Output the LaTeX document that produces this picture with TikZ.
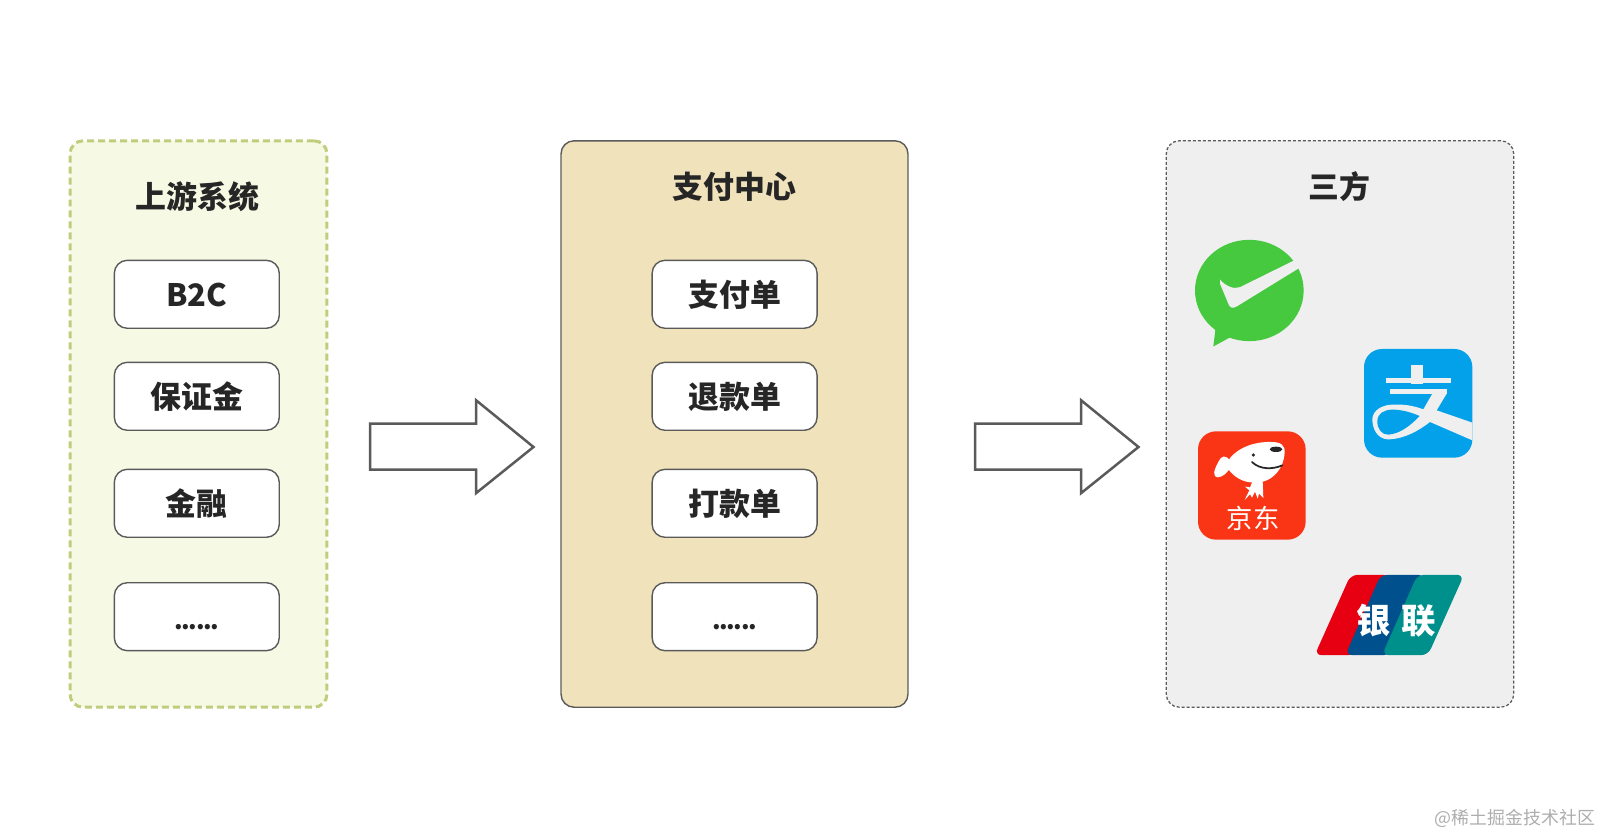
\documentclass[tikz,border=0pt]{standalone}
\usepackage{fontspec}
\usepackage{xcolor}
\usepackage{tikz}
\usetikzlibrary{
    positioning,
    calc
}
\setmainfont{Noto Sans CJK SC}
\newfontfamily\heavyfont{Noto Sans CJK SC Black}
\newcommand{\sixdots}{{\fontsize{14pt}{16pt}\selectfont .\kern-.76pt.\kern-.76pt.\kern-.76pt.\kern-.76pt.\kern-.76pt.}}

\definecolor{inkdark}{HTML}{262626}
\definecolor{edgegray}{HTML}{5A5A5A}
\definecolor{upfill}{HTML}{F6F9E4}
\definecolor{updash}{HTML}{C0CD7C}
\definecolor{payfill}{HTML}{F0E2BB}
\definecolor{thirdfill}{HTML}{EFEFEF}
\definecolor{wechatgreen}{HTML}{46C83F}
\definecolor{alipayblue}{HTML}{02A1EA}
\definecolor{jdred}{HTML}{F93515}
\definecolor{upred}{HTML}{E60012}
\definecolor{upblue}{HTML}{00508E}
\definecolor{upgreen}{HTML}{00908C}

\tikzset{
    panel/.style={minimum height=11.33cm, rounded corners=0.26cm, inner sep=0pt},
    title/.style={font=\fontsize{17.6pt}{20pt}\selectfont\bfseries, text=inkdark, inner sep=0pt},
    itembox/.style={draw=edgegray, line width=0.028cm, fill=white, rounded corners=0.26cm,
        minimum width=3.3cm, minimum height=1.36cm, inner sep=0pt,
        font=\fontsize{17.6pt}{20pt}\selectfont\bfseries, text=inkdark,
        text height=0.59cm, text depth=0.094cm},
    bigarrow/.style={draw=edgegray, line width=0.05cm, fill=white, line join=miter},
    logotext/.style={text=white, inner sep=0pt}
}

\begin{document}
\begin{tikzpicture}[x=0.02cm, y=-0.02cm]
    \useasboundingbox (0,0) rectangle (1601,834);

    % the three panels
    \node[panel, draw=updash, fill=upfill, line width=0.06cm, dash pattern=on 0.14cm off 0.08cm,
        minimum width=5.14cm] (upstream) at (198.5,424) {};
    \node[panel, draw=edgegray, fill=payfill, line width=0.028cm,
        minimum width=6.94cm] (paycenter) at (734.5,424) {};
    \node[panel, draw=edgegray, fill=thirdfill, line width=0.025cm, dash pattern=on 0.06cm off 0.04cm,
        minimum width=6.95cm] (thirdparty) at (1340,424) {};

    \node[title] (upstreamtitle) at (197.5,197) {上游系统};
    \node[title] (paytitle) at (734.5,187) {支付中心};
    \node[title] (thirdtitle) at (1339.5,187) {三方};

    % items of the left and middle panels
    \foreach \ypos/\name/\leftlabel/\midlabel in {294.3/a/B2C/支付单, 396.3/b/保证金/退款单, 503.3/c/金融/打款单, 616.7/d/\sixdots/\sixdots} {
        \node[itembox] (up\name) at (196.8,\ypos) {\leftlabel};
        \node[itembox] (pay\name) at (734.6,\ypos) {\midlabel};
    }

    % hollow arrows
    \foreach \ax in {370,975} {
        \draw[bigarrow] (\ax,423.7) -- ({\ax+106},423.7) -- ({\ax+106},400.2) -- ({\ax+163.5},447)
            -- ({\ax+106},493.2) -- ({\ax+106},469.7) -- (\ax,469.7) -- cycle;
    }

    % wechat
    \begin{scope}[shift={(1170,130.5)}, scale=0.3333]
        \fill[wechatgreen] (238,480) ellipse [x radius=163, y radius=152];
        \fill[wechatgreen] (137,590) -- (130,648) -- (185,618) -- cycle;
        \fill[thirdfill] (150,447) .. controls (165,465) and (190,478) .. (210,470) -- (372,390)
            -- (392,410) -- (200,528) .. controls (188,535) and (180,532) .. (176,522)
            -- (150,460) -- cycle;
    \end{scope}

    % alipay
    \begin{scope}[shift={(1355,341)}, scale=0.3333]
        \fill[alipayblue, rounded corners=0.36cm] (27,24) rectangle (352,350);
        \fill[thirdfill] (167,72) rectangle (205,128);
        \fill[thirdfill] (92,110) rectangle (288,125);
        \fill[thirdfill] (105,143) rectangle (275,158);
        \fill[thirdfill] (352,245) -- (245,208) -- (275,158) -- (232,158) -- (205,205)
            .. controls (170,192) and (135,188) .. (100,192)
            .. controls (70,197) and (50,215) .. (52,240)
            .. controls (55,280) and (80,297) .. (105,295)
            .. controls (150,292) and (190,270) .. (225,243)
            -- (352,298) -- cycle;
        \fill[alipayblue] (67,240) .. controls (68,218) and (85,207) .. (110,206)
            .. controls (140,205) and (170,215) .. (194,225)
            .. controls (165,255) and (135,278) .. (100,281)
            .. controls (80,282) and (66,262) .. (67,240) -- cycle;
    \end{scope}

    % jd
    \begin{scope}[shift={(1190,426)}, scale=0.3333]
        \fill[jdred, rounded corners=0.36cm] (24,16) rectangle (347,341);
        \fill[white] (112,108) .. controls (135,68) and (190,46) .. (245,48)
            .. controls (272,48) and (286,58) .. (284,80)
            .. controls (282,125) and (250,170) .. (195,170)
            .. controls (155,170) and (128,150) .. (112,125) -- cycle;
        \fill[white] (122,105) .. controls (105,85) and (95,88) .. (85,108)
            .. controls (70,135) and (68,152) .. (82,154)
            .. controls (100,154) and (115,137) .. (122,122) -- cycle;
        \fill[white] (188,165) -- (218,165) -- (220,216) -- (207,203) -- (203,218) -- (195,197)
            -- (186,215) -- (180,205) -- (164,222) -- (178,193) -- (165,182) -- (180,184) -- cycle;
        \fill[black!85] (190,87) circle (5.5);
        \fill[black!85] (258,70) ellipse [x radius=19, y radius=8];
        \draw[black!85, line width=0.035cm, line cap=round] (186,108) .. controls (210,132) and (250,130) .. (277,118);
        \node[logotext, font=\fontsize{15pt}{17pt}\selectfont] (jdtext) at (190,277) {京东};
    \end{scope}

    % unionpay
    \begin{scope}[shift={(1310,565.5)}, scale=0.3333]
        \fill[upred, rounded corners=0.14cm] (122,28) -- (240,28) -- (135,269) -- (14,269) -- cycle;
        \fill[upblue, rounded corners=0.14cm] (212,28) -- (345,28) -- (240,269) -- (106,269) -- cycle;
        \fill[upgreen, rounded corners=0.14cm] (322,28) -- (462,28) -- (354,269) -- (216,269) -- cycle;
        \node[logotext, font=\fontsize{19.6pt}{22pt}\selectfont\heavyfont] (yin) at (192,165) {银};
        \node[logotext, font=\fontsize{19.6pt}{22pt}\selectfont\heavyfont] (lian) at (327,165) {联};
    \end{scope}

    % watermark
    \node[inner sep=0pt, text=black!32, font=\fontsize{10.2pt}{12pt}\selectfont] (mark) at (1515,818) {@稀土掘金技术社区};
\end{tikzpicture}
\end{document}
